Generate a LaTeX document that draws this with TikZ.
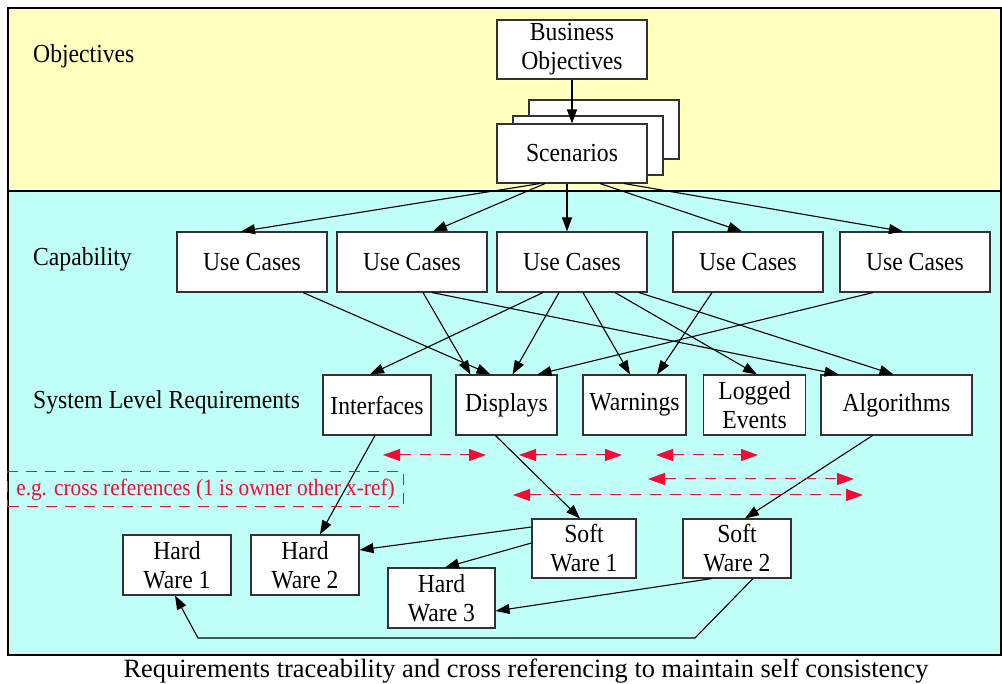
\documentclass[tikz,border=0pt]{standalone}
\usepackage{fontspec}
\setmainfont{Liberation Serif}
\newfontfamily\condfont[FakeStretch=0.91]{Liberation Serif}
\usetikzlibrary{arrows.meta}
\definecolor{bgyellow}{RGB}{255,255,192}
\definecolor{bgcyan}{RGB}{191,255,247}
\definecolor{xred}{RGB}{245,10,55}
\definecolor{boxline}{RGB}{50,50,50}
\tikzset{
  box/.style={draw=boxline, line width=1.1pt, fill=white, align=center, inner sep=0pt,
    font=\condfont\fontsize{26}{29}\selectfont},
  lbl/.style={anchor=base west, inner sep=0pt, font=\condfont\fontsize{26}{29}\selectfont},
  edge/.style={draw=black, line width=1.1pt, -{Triangle[length=14pt,width=10pt]}},
  xref/.style={draw=xred, line width=1pt, dash pattern=on 11pt off 9pt,
    {Triangle[length=17pt,width=12pt]}-{Triangle[length=17pt,width=12pt]}, fill=xred},
}
\begin{document}
\begin{tikzpicture}[x=1pt,y=-1pt]
\useasboundingbox (0,0) rectangle (1002,684);
% background bands
\fill[bgyellow] (8,8) rectangle (1001,191);
\fill[bgcyan] (8,191) rectangle (1001,655);
\draw[line width=1.3pt] (8,8) rectangle (1001,655);
\draw[line width=1.3pt] (8,191) -- (1001,191);

% row labels
\node[lbl] (lobj) at (33,63) {Objectives};
\node[lbl] (lcap) at (33,266) {Capability};
\node[lbl] (lsys) at (33,409) {System Level Requirements};

% top
\node[box, minimum width=150pt, minimum height=59pt] (bo) at (572,49.5) {Business\\Objectives};
\node[box, minimum width=150pt, minimum height=59pt] (sc3) at (604,129.5) {};
\node[box, minimum width=150pt, minimum height=59pt] (sc2) at (588,145.5) {};
\node[box, minimum width=150pt, minimum height=59pt] (sc) at (572,153.5) {Scenarios};

% use cases
\node[box, minimum width=150pt, minimum height=60pt] (uc1) at (252,262) {Use Cases};
\node[box, minimum width=150pt, minimum height=60pt] (uc2) at (412,262) {Use Cases};
\node[box, minimum width=150pt, minimum height=60pt] (uc3) at (572,262) {Use Cases};
\node[box, minimum width=150pt, minimum height=60pt] (uc4) at (748,262) {Use Cases};
\node[box, minimum width=150pt, minimum height=60pt] (uc5) at (915,262) {Use Cases};

% system level
\node[box, minimum width=108pt, minimum height=60pt] (intf) at (377,405) {Interfaces};
\node[box, minimum width=101pt, minimum height=60pt] (disp) at (506.5,405) {Displays};
\node[box, minimum width=103pt, minimum height=60pt] (warn) at (634.5,405) {Warnings};
\node[box, minimum width=102pt, minimum height=60pt] (logev) at (754.5,405) {Logged\\Events};
\node[box, minimum width=151pt, minimum height=60pt] (algo) at (896.5,405) {Algorithms};

% software / hardware
\node[box, minimum width=104pt, minimum height=59pt] (sw1) at (584,548.5) {Soft\\Ware 1};
\node[box, minimum width=108pt, minimum height=59pt] (sw2) at (737,548.5) {Soft\\Ware 2};
\node[box, minimum width=108pt, minimum height=60pt] (hw1) at (177,565) {Hard\\Ware 1};
\node[box, minimum width=108pt, minimum height=60pt] (hw2) at (305,565) {Hard\\Ware 2};
\node[box, minimum width=107pt, minimum height=60pt] (hw3) at (441.5,598) {Hard\\Ware 3};

% edges top
\draw[edge] (bo.south) -- (sc.north);
\draw[edge] ([xshift=-32pt]sc.south) -- ([xshift=-11pt]uc1.north);
\draw[edge] ([xshift=-27pt]sc.south) -- ([xshift=21pt]uc2.north);
\draw[edge] ([xshift=-5pt]sc.south) -- ([xshift=-5pt]uc3.north);
\draw[edge] ([xshift=28pt]sc.south) -- ([xshift=-6pt]uc4.north);
\draw[edge] ([xshift=52pt]sc.south) -- ([xshift=-12pt]uc5.north);

% use cases -> system level
\draw[edge] ([xshift=51pt]uc1.south) -- ([xshift=-16pt]disp.north);
\draw[edge] ([xshift=11pt]uc2.south) -- ([xshift=-36pt]disp.north);
\draw[edge] ([xshift=20pt]uc2.south) -- ([xshift=-58pt]algo.north);
\draw[edge] ([xshift=-29pt]uc3.south) -- ([xshift=-7pt]intf.north);
\draw[edge] ([xshift=-13pt]uc3.south) -- ([xshift=6pt]disp.north);
\draw[edge] ([xshift=11pt]uc3.south) -- ([xshift=-4.5pt]warn.north);
\draw[edge] ([xshift=43pt]uc3.south) -- ([xshift=2.5pt]logev.north);
\draw[edge] ([xshift=67pt]uc3.south) -- ([xshift=-3pt]algo.north);
\draw[edge] ([xshift=-36pt]uc4.south) -- ([xshift=22.5pt]warn.north);
\draw[edge] ([xshift=-42pt]uc5.south) -- ([xshift=31pt]disp.north);

% system level -> software/hardware
\draw[edge] ([xshift=-2pt]intf.south) -- ([xshift=15pt]hw2.north);
\draw[edge] ([xshift=-11pt]disp.south) -- ([xshift=-4pt]sw1.north);
\draw[edge] ([xshift=-24pt]algo.south) -- ([xshift=8pt]sw2.north);
\draw[edge] ([yshift=21.5pt]sw1.west) -- ([yshift=15pt]hw2.east);
\draw[edge] ([yshift=5.5pt]sw1.west) -- ([xshift=3.5pt]hw3.north);
\draw[edge] ([xshift=-25pt]sw2.south) -- ([yshift=-13pt]hw3.east);
\coordinate (bend1) at (695,638);
\coordinate (bend2) at (198,638);
\draw[edge] ([xshift=16pt]sw2.south) -- (bend1) -- (bend2) -- ([xshift=-2pt]hw1.south);

% cross reference arrows
\coordinate (r1a) at (383,455); \coordinate (r1b) at (486,455);
\coordinate (r2a) at (519,455); \coordinate (r2b) at (622,455);
\coordinate (r3a) at (656,455); \coordinate (r3b) at (758,455);
\coordinate (r4a) at (648,479); \coordinate (r4b) at (854,479);
\coordinate (r5a) at (513,495); \coordinate (r5b) at (863,495);
\draw[xref] (r1a) -- (r1b);
\draw[xref] (r2a) -- (r2b);
\draw[xref] (r3a) -- (r3b);
\draw[xref] (r4a) -- (r4b);
\draw[xref] (r5a) -- (r5b);

\node[draw=xred, dash pattern=on 11pt off 8pt, line width=1pt, text=xred,
  minimum width=396pt, minimum height=35pt, inner sep=0pt,
  font=\condfont\fontsize{23.4}{27}\selectfont] (xnote) at (205.5,489.5)
  {e.g. cross references (1 is owner other x-ref)};

% caption
\node[inner sep=0pt, font=\fontsize{26.4}{30}\selectfont] (cap) at (526,671)
  {Requirements traceability and cross referencing to maintain self consistency};
\end{tikzpicture}
\end{document}
